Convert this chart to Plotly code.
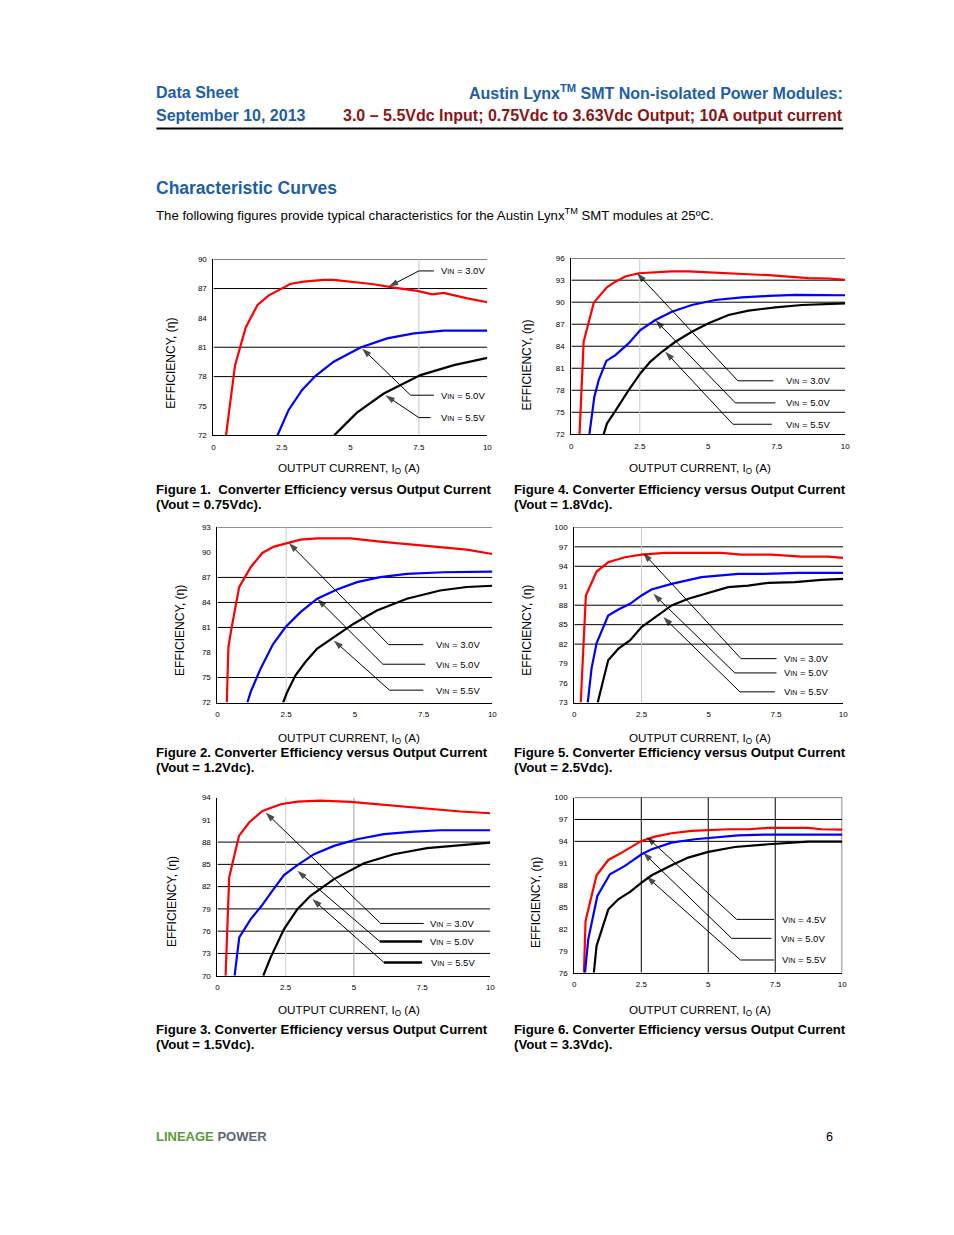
import plotly.graph_objects as go

W, H = 954, 1235
FONT = "Liberation Sans, Arial, sans-serif"
BLUE_T = "#1C5EA9"
RED_T = "#8B1414"

# ---------------- data ----------------
X_TICKS = [0, 2.5, 5, 7.5, 10]
X_TICK_TEXT = ["0", "2.5", "5", "7.5", "10"]

# Figure 1 (Vout = 0.75Vdc)
F1_YTICKS = [72, 75, 78, 81, 84, 87, 90]
F1_X_30 = [0.46, 0.79, 1.18, 1.61, 2.01, 2.44, 2.80, 3.29, 4.02, 4.39, 5.0, 5.85, 6.59, 7.44, 7.99, 8.41, 9.27, 10]
F1_Y_30 = [72, 79.17, 83.03, 85.32, 86.28, 86.93, 87.47, 87.71, 87.88, 87.88, 87.68, 87.44, 87.1, 86.76, 86.41, 86.55, 86.0, 85.6]
F1_X_50 = [2.34, 2.74, 3.23, 3.72, 4.39, 5.37, 6.34, 7.32, 8.41, 10]
F1_Y_50 = [72, 74.56, 76.61, 78.05, 79.52, 80.98, 81.91, 82.42, 82.69, 82.69]
F1_X_55 = [4.41, 5.24, 6.22, 7.56, 8.78, 10]
F1_Y_55 = [72, 74.32, 76.27, 78.15, 79.17, 79.92]

# Figure 4 (Vout = 1.8Vdc)
F4_YTICKS = [72, 75, 78, 81, 84, 87, 90, 93, 96]
F4_X_30 = [0.30, 0.45, 0.82, 1.30, 1.61, 1.97, 2.46, 3.07, 3.67, 4.28, 4.89, 5.62, 6.47, 7.2, 7.93, 8.66, 9.39, 10]
F4_Y_30 = [72, 84.6, 89.94, 92.04, 92.8, 93.5, 93.95, 94.09, 94.2, 94.2, 94.09, 94.04, 93.86, 93.68, 93.5, 93.27, 93.23, 93.04]
F4_X_50 = [0.66, 0.84, 1.0, 1.28, 1.61, 2.09, 2.52, 3.07, 3.67, 4.4, 5.26, 6.23, 7.2, 8.18, 10]
F4_Y_50 = [72, 77.1, 79.38, 82.0, 82.79, 84.39, 86.2, 87.57, 88.71, 89.62, 90.3, 90.67, 90.85, 90.99, 90.95]
F4_X_55 = [1.18, 1.30, 1.61, 2.09, 2.52, 2.88, 3.31, 3.80, 4.40, 5.01, 5.74, 6.47, 7.45, 8.42, 10]
F4_Y_55 = [72, 73.46, 75.19, 78.0, 80.29, 81.88, 83.25, 84.61, 85.98, 87.12, 88.26, 88.85, 89.3, 89.62, 89.85]

# Figure 2 (Vout = 1.2Vdc)
F2_YTICKS = [72, 75, 78, 81, 84, 87, 90, 93]
F2_X_30 = [0.34, 0.40, 0.51, 0.79, 1.21, 1.63, 2.06, 2.52, 3.02, 3.63, 4.84, 5.92, 7.13, 8.34, 9.07, 10]
F2_Y_30 = [72, 78.66, 80.85, 85.83, 88.22, 89.93, 90.69, 91.13, 91.53, 91.69, 91.69, 91.29, 90.93, 90.61, 90.33, 89.81]
F2_X_50 = [1.09, 1.21, 1.57, 2.02, 2.48, 3.02, 3.63, 4.35, 5.08, 5.92, 6.89, 8.22, 10]
F2_Y_50 = [72, 73.27, 76.06, 78.98, 81.05, 82.84, 84.44, 85.55, 86.43, 87.03, 87.42, 87.62, 87.7]
F2_X_55 = [2.39, 2.54, 2.84, 3.2, 3.63, 4.23, 4.96, 5.80, 6.89, 8.1, 9.07, 10]
F2_Y_55 = [72, 73.27, 75.27, 76.86, 78.46, 79.85, 81.45, 83.04, 84.44, 85.43, 85.85, 86.0]

# Figure 5 (Vout = 2.5Vdc)
F5_YTICKS = [73, 76, 79, 82, 85, 88, 91, 94, 97, 100]
F5_X_30 = [0.24, 0.33, 0.43, 0.83, 1.26, 1.88, 2.5, 3.37, 5.48, 6.22, 7.33, 8.45, 9.44, 10]
F5_Y_30 = [73, 80.28, 89.5, 93.19, 94.62, 95.39, 95.8, 96.06, 96.06, 95.8, 95.8, 95.49, 95.49, 95.29]
F5_X_50 = [0.5, 0.64, 0.83, 1.26, 1.64, 2.07, 2.5, 2.87, 3.62, 4.73, 6.10, 7.09, 8.33, 10]
F5_Y_50 = [73, 78.23, 82.17, 86.42, 87.34, 88.22, 89.5, 90.42, 91.29, 92.32, 92.83, 92.83, 92.98, 92.98]
F5_X_55 = [0.87, 1.08, 1.26, 1.64, 2.07, 2.5, 3.0, 3.62, 4.24, 4.98, 5.72, 6.47, 7.21, 8.2, 9.19, 10]
F5_Y_55 = [73, 76.69, 79.51, 81.3, 82.58, 84.63, 86.17, 87.96, 88.99, 89.91, 90.78, 91.03, 91.44, 91.55, 91.9, 92.06]

# Figure 3 (Vout = 1.5Vdc)
F3_YTICKS = [70, 73, 76, 79, 82, 85, 88, 91, 94]
F3_X_30 = [0.3, 0.43, 0.79, 1.16, 1.65, 2.32, 2.93, 3.78, 4.88, 5.85, 6.95, 7.93, 8.9, 10]
F3_Y_30 = [70, 83.23, 88.84, 90.64, 92.21, 93.1, 93.46, 93.6, 93.42, 93.1, 92.79, 92.43, 92.12, 91.89]
F3_X_50 = [0.63, 0.80, 1.22, 1.62, 2.01, 2.44, 2.93, 3.54, 4.27, 5.12, 6.10, 7.2, 8.17, 10]
F3_Y_50 = [70, 75.16, 77.62, 79.42, 81.44, 83.55, 84.89, 86.37, 87.49, 88.39, 89.07, 89.42, 89.6, 89.6]
F3_X_55 = [1.68, 1.95, 2.44, 2.93, 3.41, 4.27, 5.37, 6.46, 7.68, 8.9, 10]
F3_Y_55 = [70, 72.47, 76.28, 78.97, 80.77, 83.01, 85.16, 86.37, 87.18, 87.63, 87.94]

# Figure 6 (Vout = 3.3Vdc)
F6_YTICKS = [76, 79, 82, 85, 88, 91, 94, 97, 100]
F6_X_45 = [0.36, 0.42, 0.83, 1.27, 1.77, 2.2, 2.51, 3.01, 3.63, 4.38, 5.0, 5.75, 6.49, 7.24, 8.73, 9.23, 10]
F6_Y_45 = [76, 83.09, 89.35, 91.45, 92.46, 93.46, 94.06, 94.65, 95.11, 95.43, 95.57, 95.66, 95.66, 95.84, 95.84, 95.66, 95.61]
F6_X_50 = [0.4, 0.52, 0.86, 1.33, 1.89, 2.51, 2.89, 3.63, 4.5, 5.25, 6.12, 7.24, 10]
F6_Y_50 = [76, 80.57, 86.51, 89.49, 90.63, 92.23, 92.91, 93.83, 94.29, 94.51, 94.83, 94.93, 94.93]
F6_X_55 = [0.73, 0.83, 0.99, 1.27, 1.64, 2.08, 2.51, 2.89, 3.63, 4.25, 5.0, 5.99, 7.24, 8.73, 10]
F6_Y_55 = [76, 79.66, 81.49, 84.69, 86.06, 87.07, 88.34, 89.35, 90.72, 91.77, 92.55, 93.23, 93.6, 93.97, 93.97]

# ---------------- panel configuration ----------------
RED, BLUE, BLACK = "#FF0000", "#0000FF", "#000000"
LBL = "V<span style='font-size:7px'>IN</span> = {}"

panels = [
    dict(box=(213, 259, 487, 435), yr=(72, 90), yt=F1_YTICKS,
         hgrid=[90, 87, 81, 78], vgrid=[(7.5, "#c8c8c8")],
         series=[(F1_X_30, F1_Y_30, RED), (F1_X_50, F1_Y_50, BLUE), (F1_X_55, F1_Y_55, BLACK)],
         leaders=[("3.0V", 8.23, 88.8, 7.5, 8.05, 6.4, 87.2, 1),
                  ("5.0V", 8.23, 76.1, 7.2, 8.05, 5.43, 80.88, 1),
                  ("5.5V", 8.23, 73.81, 7.5, 7.93, 6.28, 76.1, 1)],
         cap=("Figure 1.\u00a0\u00a0Converter Efficiency versus Output Current", "(Vout = 0.75Vdc)."),
         capxy=(157, 489, 504), yt_xy=(171, 363), xt_xy=(349, 468)),
    dict(box=(571, 258, 845, 434), yr=(72, 96), yt=F4_YTICKS,
         hgrid=[96, 93, 90, 87, 84, 81, 78, 75], vgrid=[(2.5, "#c8c8c8")],
         series=[(F4_X_30, F4_Y_30, RED), (F4_X_50, F4_Y_50, BLUE), (F4_X_55, F4_Y_55, BLACK)],
         leaders=[("3.0V", 7.75, 79.29, 6.08, 7.38, 2.40, 93.95, 1),
                  ("5.0V", 7.75, 76.28, 5.99, 7.45, 3.07, 87.57, 1),
                  ("5.5V", 7.75, 73.37, 5.9, 7.32, 3.43, 83.25, 1)],
         cap=("Figure 4. Converter Efficiency versus Output Current", "(Vout = 1.8Vdc)."),
         capxy=(515, 489, 504), yt_xy=(527, 365), xt_xy=(700, 468)),
    dict(box=(217, 527, 492, 702), yr=(72, 93), yt=F2_YTICKS,
         hgrid=[93, 87, 84, 81, 75], vgrid=[(2.5, "#c8c8c8")],
         series=[(F2_X_30, F2_Y_30, RED), (F2_X_50, F2_Y_50, BLUE), (F2_X_55, F2_Y_55, BLACK)],
         leaders=[("3.0V", 7.86, 78.94, 6.23, 7.49, 2.6, 91.13, 1),
                  ("5.0V", 7.88, 76.59, 6.02, 7.56, 3.63, 84.44, 1),
                  ("5.5V", 7.88, 73.48, 6.26, 7.49, 4.23, 79.45, 1)],
         cap=("Figure 2. Converter Efficiency versus Output Current", "(Vout = 1.2Vdc)."),
         capxy=(157, 752, 767), yt_xy=(180, 630), xt_xy=(349, 738)),
    dict(box=(574, 527, 843, 702), yr=(73, 100), yt=F5_YTICKS,
         hgrid=[100, 97, 94, 88, 85, 82], vgrid=[(2.5, "#c8c8c8")],
         series=[(F5_X_30, F5_Y_30, RED), (F5_X_50, F5_Y_50, BLUE), (F5_X_55, F5_Y_55, BLACK)],
         leaders=[("3.0V", 7.71, 79.76, 6.2, 7.52, 2.56, 96.06, 1),
                  ("5.0V", 7.71, 77.56, 5.97, 7.52, 2.94, 89.75, 1),
                  ("5.5V", 7.73, 74.64, 6.16, 7.46, 3.31, 86.17, 1)],
         cap=("Figure 5. Converter Efficiency versus Output Current", "(Vout = 2.5Vdc)."),
         capxy=(515, 752, 767), yt_xy=(527, 630), xt_xy=(700, 738)),
    dict(box=(217, 797, 490, 975), yr=(70, 94), yt=F3_YTICKS,
         hgrid=[88, 85, 82, 79, 76, 73], vgrid=[(2.5, "#d0d0d0"), (5, "#a0a0a0")],
         series=[(F3_X_30, F3_Y_30, RED), (F3_X_50, F3_Y_50, BLUE), (F3_X_55, F3_Y_55, BLACK)],
         leaders=[("3.0V", 7.72, 77.04, 5.98, 7.56, 1.77, 91.98, 1),
                  ("5.0V", 7.72, 74.62, 5.95, 7.5, 2.93, 84.13, 2.5),
                  ("5.5V", 7.74, 71.79, 6.1, 7.5, 3.48, 80.32, 2.5)],
         cap=("Figure 3. Converter Efficiency versus Output Current", "(Vout = 1.5Vdc)."),
         capxy=(157, 1029, 1044), yt_xy=(171, 901), xt_xy=(349, 1010)),
    dict(box=(574, 797, 842, 972), yr=(76, 100), yt=F6_YTICKS,
         hgrid=[100, 97, 94], vgrid=[(2.5, "#000000"), (5, "#000000"), (7.5, "#000000"), (10, "#000000")],
         series=[(F6_X_45, F6_Y_45, RED), (F6_X_50, F6_Y_50, BLUE), (F6_X_55, F6_Y_55, BLACK)],
         leaders=[("4.5V", 7.67, 83.31, 6.06, 7.46, 2.7, 94.61, 1),
                  ("5.0V", 7.64, 80.71, 5.87, 7.36, 2.57, 92.46, 1),
                  ("5.5V", 7.67, 77.74, 6.2, 7.46, 2.7, 89.17, 1)],
         cap=("Figure 6. Converter Efficiency versus Output Current", "(Vout = 3.3Vdc)."),
         capxy=(515, 1029, 1044), yt_xy=(535, 902), xt_xy=(700, 1010)),
]

# the photographed page comes out slightly scaled; compensate page positions
SX, SY, OX, OY = 0.993, 0.992, 1.5, 4.0


def px(x):
    return ((x - OX) / SX) / W


def py(y):
    return 1 - ((y - OY) / SY) / H


fig = go.Figure()
shapes = []
annotations = []
layout_axes = {}

for i, p in enumerate(panels, start=1):
    xs = "" if i == 1 else str(i)
    xname, yname = "x" + xs, "y" + xs
    x0, y0, x1, y1 = p["box"]
    layout_axes["xaxis" + xs] = dict(
        domain=[px(x0), px(x1)], anchor=yname, range=[0, 10],
        tickvals=X_TICKS, ticktext=X_TICK_TEXT, showgrid=False, zeroline=False,
        showline=True, linecolor="black", linewidth=1,
        ticks="outside", ticklen=4, tickcolor="rgba(0,0,0,0)",
        tickfont=dict(family=FONT, size=8, color="black"), fixedrange=True)
    layout_axes["yaxis" + xs] = dict(
        domain=[py(y1), py(y0)], anchor=xname, range=list(p["yr"]),
        tickvals=p["yt"], ticktext=[str(v) for v in p["yt"]], showgrid=False, zeroline=False,
        showline=True, linecolor="black", linewidth=1,
        ticks="outside", ticklen=4, tickcolor="rgba(0,0,0,0)",
        tickfont=dict(family=FONT, size=8, color="black"), fixedrange=True)

    for gy in p["hgrid"]:
        shapes.append(dict(type="line", xref=xname, yref=yname, x0=0, x1=10, y0=gy, y1=gy,
                           line=dict(color="black", width=1), layer="below"))
    for gx, col in p["vgrid"]:
        shapes.append(dict(type="line", xref=xname, yref=yname, x0=gx, x1=gx,
                           y0=p["yr"][0], y1=p["yr"][1], line=dict(color=col, width=1), layer="below"))

    for sx, sy, col in p["series"]:
        fig.add_trace(go.Scatter(x=sx, y=sy, mode="lines", xaxis=xname, yaxis=yname,
                                 line=dict(color=col, width=2.2), showlegend=False, hoverinfo="skip"))

    for txt, tx, ty, sx0, sx1, hx, hy, lw in p["leaders"]:
        shapes.append(dict(type="line", xref=xname, yref=yname, x0=sx0, x1=sx1, y0=ty, y1=ty,
                           line=dict(color="black", width=lw)))
        fig.add_trace(go.Scatter(x=[sx0, hx], y=[ty, hy], mode="lines+markers",
                                 xaxis=xname, yaxis=yname,
                                 line=dict(color="black", width=1),
                                 marker=dict(symbol="arrow", size=[0, 10], angleref="previous",
                                             color="black", line=dict(width=0)),
                                 showlegend=False, hoverinfo="skip", cliponaxis=False))
        annotations.append(dict(xref=xname, yref=yname, x=tx, y=ty, text=LBL.format(txt),
                                showarrow=False, xanchor="left", yanchor="middle",
                                font=dict(family=FONT, size=9.5, color="black")))

    annotations.append(dict(xref="paper", yref="paper", x=px(p["yt_xy"][0]), y=py(p["yt_xy"][1]),
                            text="EFFICIENCY, (\u03b7)", textangle=-90, showarrow=False,
                            xanchor="center", yanchor="middle",
                            font=dict(family=FONT, size=12, color="black")))
    annotations.append(dict(xref="paper", yref="paper", x=px(p["xt_xy"][0]), y=py(p["xt_xy"][1]),
                            text="OUTPUT CURRENT, I<sub>O</sub> (A)", showarrow=False,
                            xanchor="center", yanchor="middle",
                            font=dict(family=FONT, size=11.7, color="black")))
    cx, cy1, cy2 = p["capxy"]
    for t, cy in zip(p["cap"], (cy1, cy2)):
        annotations.append(dict(xref="paper", yref="paper", x=px(cx - 3), y=py(cy), text="<b>" + t + "</b>",
                                showarrow=False, xanchor="left", yanchor="middle",
                                font=dict(family=FONT, size=13.2, color="black")))


def ptext(x, y, text, size, color, anchor="left", bold=False):
    dx = -3 if anchor == "left" else 3
    annotations.append(dict(xref="paper", yref="paper", x=px(x + dx), y=py(y),
                            text=("<b>" + text + "</b>") if bold else text, showarrow=False,
                            xanchor=anchor, yanchor="middle",
                            font=dict(family=FONT, size=size, color=color)))


ptext(157, 92, "Data Sheet", 16, BLUE_T, bold=True)
ptext(842, 92, "Austin Lynx<sup>TM</sup> SMT Non-isolated Power Modules:", 16, BLUE_T, anchor="right", bold=True)
ptext(157, 115, "September 10, 2013", 16, BLUE_T, bold=True)
ptext(842, 115, "3.0 \u2013 5.5Vdc Input; 0.75Vdc to 3.63Vdc Output; 10A output current", 16, RED_T,
      anchor="right", bold=True)
shapes.append(dict(type="line", xref="paper", yref="paper", x0=px(156), x1=px(843), y0=py(128.5), y1=py(128.5),
                   line=dict(color="black", width=2)))
ptext(157, 188, "Characteristic Curves", 17.5, BLUE_T, bold=True)
ptext(157, 214, "The following figures provide typical characteristics for the Austin Lynx<sup>TM</sup> SMT modules at 25\u00baC.",
      13.2, "black")
annotations.append(dict(xref="paper", yref="paper", x=px(154), y=py(1136),
                        text="<b><span style='color:#5B9A3A'>LINEAGE</span> <span style='color:#5C6675'>POWER</span></b>",
                        showarrow=False, xanchor="left", yanchor="middle",
                        font=dict(family=FONT, size=13, color="#5C6675")))
ptext(832, 1136, "6", 12.5, "black", anchor="right")

fig.update_layout(width=W, height=H, margin=dict(l=0, r=0, t=0, b=0),
                  paper_bgcolor="white", plot_bgcolor="white", showlegend=False,
                  shapes=shapes, annotations=annotations, **layout_axes)

fig.write_html("out.html", config={"displayModeBar": False},
               post_script="document.body.style.margin='0';document.body.style.overflow='hidden';")
